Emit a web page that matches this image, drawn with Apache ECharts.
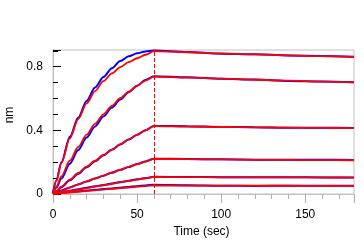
<!DOCTYPE html>
<html>
<head>
<meta charset="utf-8">
<script src="https://cdn.jsdelivr.net/npm/echarts@6/dist/echarts.min.js"></script>
<style>
    html, body { margin: 0; padding: 0; background: #fff; }
    #chart { width: 364px; height: 244px; }
</style>
</head>
<body>
<div id="chart"></div>
<script>
    // time points (sec): association 0-60, dissociation 60-179
    const time = [0, 2, 5, 10, 15, 20, 25, 30, 35, 40, 45, 50, 55, 60, 80, 100, 120, 140, 160, 179]

    // measured response (nm), blue
    const meas1 = [0.01, 0.085, 0.2, 0.36, 0.48, 0.585, 0.67, 0.735, 0.79, 0.836, 0.865, 0.884, 0.896, 0.902, 0.893, 0.882, 0.878, 0.871, 0.868, 0.862]
    const meas2 = [0.008, 0.04, 0.097, 0.19, 0.276, 0.355, 0.425, 0.487, 0.543, 0.594, 0.64, 0.681, 0.716, 0.74, 0.733, 0.724, 0.719, 0.71, 0.707, 0.703]
    const meas3 = [0.006, 0.018, 0.043, 0.086, 0.128, 0.168, 0.206, 0.243, 0.278, 0.311, 0.342, 0.372, 0.401, 0.428, 0.426, 0.421, 0.42, 0.416, 0.416, 0.415]
    const meas4 = [0.005, 0.011, 0.022, 0.041, 0.06, 0.079, 0.097, 0.115, 0.134, 0.152, 0.17, 0.188, 0.205, 0.222, 0.22, 0.218, 0.216, 0.216, 0.215, 0.214]
    const meas5 = [0.004, 0.007, 0.012, 0.021, 0.03, 0.039, 0.048, 0.057, 0.066, 0.075, 0.083, 0.092, 0.1, 0.108, 0.107, 0.106, 0.105, 0.105, 0.104, 0.104]
    const meas6 = [0.004, 0.005, 0.008, 0.012, 0.017, 0.022, 0.026, 0.031, 0.035, 0.04, 0.044, 0.049, 0.054, 0.058, 0.055, 0.052, 0.051, 0.052, 0.052, 0.052]

    // fitted curves (nm), red
    const fit1 = [0, 0.083, 0.194, 0.349, 0.471, 0.569, 0.647, 0.709, 0.758, 0.797, 0.829, 0.853, 0.875, 0.898, 0.891, 0.884, 0.877, 0.871, 0.866, 0.861]
    const fit2 = [0, 0.046, 0.111, 0.209, 0.296, 0.373, 0.441, 0.501, 0.554, 0.602, 0.643, 0.68, 0.713, 0.738, 0.731, 0.725, 0.718, 0.712, 0.706, 0.701]
    const fit3 = [0, 0.019, 0.046, 0.09, 0.132, 0.172, 0.209, 0.245, 0.279, 0.313, 0.343, 0.372, 0.4, 0.427, 0.424, 0.421, 0.419, 0.417, 0.415, 0.414]
    const fit4 = [0, 0.008, 0.02, 0.04, 0.06, 0.079, 0.098, 0.116, 0.135, 0.152, 0.17, 0.187, 0.204, 0.221, 0.219, 0.217, 0.215, 0.214, 0.213, 0.212]
    const fit5 = [0, 0.004, 0.01, 0.019, 0.028, 0.037, 0.046, 0.055, 0.064, 0.073, 0.082, 0.09, 0.099, 0.107, 0.106, 0.105, 0.105, 0.104, 0.104, 0.103]
    const fit6 = [0, 0.002, 0.005, 0.009, 0.014, 0.019, 0.023, 0.028, 0.032, 0.037, 0.041, 0.046, 0.05, 0.054, 0.053, 0.053, 0.052, 0.052, 0.051, 0.051]

    const switchTime = 60
    const xTicks = [0, 50, 100, 150]
    const yTicks = [0, 0.4, 0.8]

    const font = 'Liberation Sans, Arial, sans-serif'
    const measured = [meas1, meas2, meas3, meas4, meas5, meas6]
    const fitted = [fit1, fit2, fit3, fit4, fit5, fit6]

    function pairs(values){
        return values.map((v, i) => [time[i], v])
    }

    let series = []
    measured.forEach(m => {
        series.push({
            type: 'line',
            data: pairs(m),
            showSymbol: false,
            smooth: 0.3,
            smoothMonotone: 'x',
            lineStyle: { color: '#0000ff', width: 2 },
            z: 2
        })
    })
    fitted.forEach((f, i) => {
        let s = {
            type: 'line',
            data: pairs(f),
            showSymbol: false,
            smooth: 0.3,
            smoothMonotone: 'x',
            itemStyle: { color: '#ff0000' },
            lineStyle: { color: '#ff0000', width: 1.8 },
            z: 3
        }
        if(i === 0){
            s.markLine = {
                silent: true,
                symbol: 'none',
                label: { show: false },
                itemStyle: { color: '#ff0000' },
                lineStyle: { color: '#ff0000', width: 1, type: [4, 2], opacity: 1 },
                data: [{ xAxis: switchTime, lineStyle: { color: '#ff0000' } }]
            }
        }
        series.push(s)
    })

    let myChart = echarts.init(document.getElementById('chart'))
    let option = {
        animation: false,
        grid: {
            left: 53, right: 10, top: 50, bottom: 50,
            outerBoundsMode: 'none',
            containLabel: false,
            show: true,
            borderColor: '#c0c0c0',
            borderWidth: 1
        },
        xAxis: [
            {
                type: 'value',
                position: 'bottom',
                min: 0, max: 179, interval: 10,
                name: 'Time (sec)',
                nameLocation: 'middle',
                nameGap: 29,
                nameTextStyle: { fontFamily: font, fontSize: 12, color: '#000', padding: [0, 4, 0, 0] },
                axisLine: { lineStyle: { color: '#c0c0c0' } },
                axisTick: { length: 5, lineStyle: { color: '#b0b0b0' } },
                axisLabel: {
                    margin: 15,
                    fontFamily: font, fontSize: 12, color: '#000',
                    formatter: v => xTicks.indexOf(v) >= 0 ? String(v) : ''
                },
                splitLine: { show: false }
            },
            {
                type: 'value',
                position: 'bottom',
                min: 0, max: 179, interval: 50,
                axisLine: { show: false },
                axisTick: { length: 9, lineStyle: { color: '#b0b0b0' } },
                axisLabel: { show: false },
                splitLine: { show: false }
            }
        ],
        yAxis: [
            {
                type: 'value',
                position: 'left',
                min: 0, max: 0.905, interval: 0.1,
                name: 'nm',
                nameLocation: 'middle',
                nameGap: 35,
                nameRotate: 90,
                nameTextStyle: { fontFamily: font, fontSize: 12, color: '#000', padding: [0, 0, 0, 14] },
                axisLine: { show: true, lineStyle: { color: '#c0c0c0' } },
                axisTick: { show: true, inside: true, length: 5, lineStyle: { color: '#000' } },
                axisLabel: {
                    margin: 10,
                    fontFamily: font, fontSize: 12, color: '#000',
                    formatter: v => yTicks.some(t => Math.abs(t - v) < 1e-6) ? String(Number(v.toFixed(1))) : ''
                },
                splitLine: { show: false }
            },
            {
                type: 'value',
                position: 'left',
                min: 0, max: 0.905, interval: 0.4,
                axisLine: { show: false },
                axisTick: { show: true, inside: true, length: 8, lineStyle: { color: '#000' } },
                axisLabel: { show: false },
                splitLine: { show: false }
            }
        ],
        series: series
    }
    myChart.setOption(option)
</script>
</body>
</html>
